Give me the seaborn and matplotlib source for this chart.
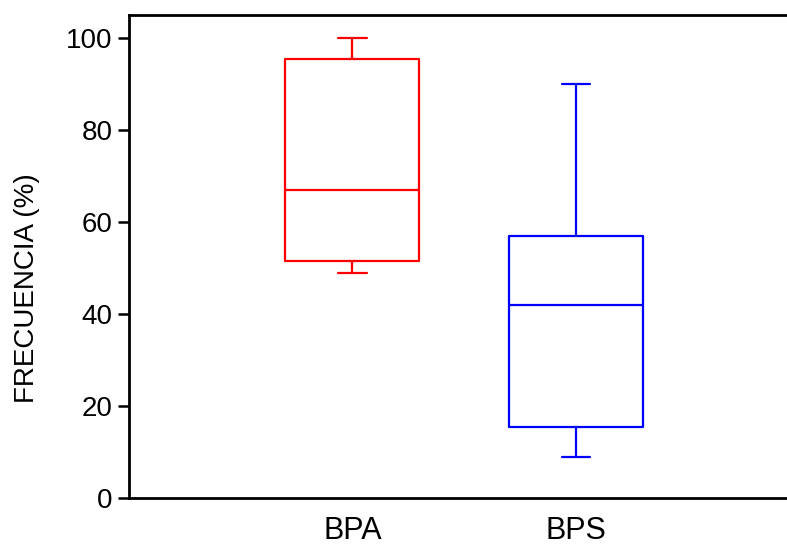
import numpy as np
import pandas as pd
import matplotlib
matplotlib.use("Agg")
import matplotlib.pyplot as plt
import seaborn as sns

# five-number summaries: min, Q1, median, Q3, max
groups = ["BPA", "BPS"]
bpa_values = [49, 51.5, 67, 95.5, 100]
bps_values = [9, 15.5, 42, 57, 90]
colors = ["#ff0000", "#0000ff"]

df = pd.DataFrame({
    "grupo": ["BPA"] * len(bpa_values) + ["BPS"] * len(bps_values),
    "frecuencia": bpa_values + bps_values,
})

sns.set_style("white")
plt.rcParams['font.family'] = ['Liberation Sans', 'DejaVu Sans']
plt.rcParams['text.color'] = 'black'
plt.rcParams['axes.labelcolor'] = 'black'
plt.rcParams['xtick.color'] = 'black'
plt.rcParams['ytick.color'] = 'black'

fig = plt.figure(figsize=(7.87, 5.48), dpi=100)
ax = fig.add_axes([129 / 787, 50 / 548, 1 - 129 / 787, (498 - 15) / 548])

sns.boxplot(data=df, x="grupo", y="frecuencia", order=groups, hue="grupo",
            palette=colors, fill=False, whis=(0, 100), width=0.6,
            linewidth=1.6, showcaps=True, legend=False, ax=ax)

# short caps like the original
for line in ax.lines:
    xd = line.get_xdata()
    if len(xd) == 2 and 0 < abs(xd[1] - xd[0]) < 0.5:
        c = (xd[0] + xd[1]) / 2
        line.set_xdata([c - 0.063, c + 0.063])

ax.set_xlim(-1.0, 1.945)
ax.set_ylim(0, 105)
ax.set_yticks([0, 20, 40, 60, 80, 100])
ax.set_xlabel("")
ax.set_ylabel("FRECUENCIA (%)", fontsize=20)
ax.yaxis.set_label_coords(-0.135, 0.435)
ax.tick_params(axis="y", direction="out", length=8, width=1.8, labelsize=20, pad=4, left=True)
ax.tick_params(axis="x", length=0, labelsize=22, pad=13)

for side in ["left", "top", "bottom"]:
    ax.spines[side].set_linewidth(2.0)
    ax.spines[side].set_color("black")
ax.spines["right"].set_visible(False)

fig.savefig("out.png", dpi=100)
